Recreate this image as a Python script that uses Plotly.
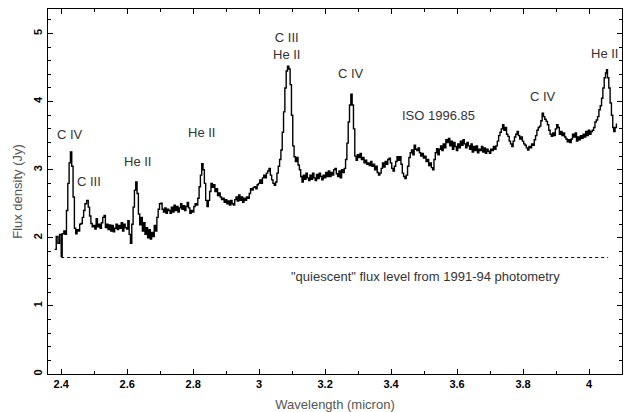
import plotly.graph_objects as go

# --- data ---
wavelength = [
    2.380, 2.385, 2.390, 2.395, 2.400, 2.403, 2.408, 2.412, 2.416, 2.420, 2.424, 2.428, 2.432, 2.436,
    2.440, 2.444, 2.448, 2.452, 2.456, 2.460, 2.464, 2.468, 2.472, 2.477, 2.482, 2.486, 2.490, 2.494,
    2.498, 2.502, 2.506, 2.510, 2.514, 2.518, 2.522, 2.526, 2.530, 2.534, 2.538, 2.542, 2.546, 2.550,
    2.554, 2.558, 2.562, 2.566, 2.570, 2.574, 2.578, 2.582, 2.586, 2.590, 2.594, 2.598, 2.602, 2.606,
    2.610, 2.614, 2.618, 2.622, 2.626, 2.630, 2.634, 2.638, 2.642, 2.646, 2.650, 2.654, 2.658, 2.662,
    2.666, 2.670, 2.674, 2.678, 2.682, 2.686, 2.690, 2.694, 2.698, 2.702, 2.706, 2.710, 2.714, 2.718,
    2.722, 2.726, 2.730, 2.734, 2.738, 2.742, 2.746, 2.750, 2.754, 2.758, 2.762, 2.766, 2.770, 2.774,
    2.778, 2.782, 2.786, 2.790, 2.794, 2.798, 2.802, 2.806, 2.810, 2.814, 2.818, 2.822, 2.826, 2.830,
    2.834, 2.838, 2.842, 2.846, 2.850, 2.854, 2.858, 2.862, 2.866, 2.870, 2.874, 2.878, 2.882, 2.886,
    2.890, 2.894, 2.898, 2.902, 2.906, 2.910, 2.914, 2.918, 2.922, 2.926, 2.930, 2.934, 2.938, 2.942,
    2.946, 2.950, 2.954, 2.958, 2.962, 2.966, 2.970, 2.974, 2.978, 2.982, 2.986, 2.990, 2.994, 2.998,
    3.002, 3.006, 3.010, 3.014, 3.018, 3.022, 3.026, 3.030, 3.034, 3.038, 3.042, 3.046, 3.050, 3.054,
    3.058, 3.062, 3.066, 3.070, 3.074, 3.078, 3.082, 3.086, 3.090, 3.094, 3.098, 3.102, 3.106, 3.110,
    3.114, 3.118, 3.122, 3.126, 3.130, 3.134, 3.138, 3.142, 3.146, 3.150, 3.154, 3.158, 3.162, 3.166,
    3.170, 3.174, 3.178, 3.182, 3.186, 3.190, 3.194, 3.198, 3.202, 3.206, 3.210, 3.214, 3.218, 3.222,
    3.226, 3.230, 3.234, 3.238, 3.242, 3.246, 3.250, 3.254, 3.258, 3.262, 3.266, 3.270, 3.274, 3.278,
    3.282, 3.286, 3.290, 3.294, 3.298, 3.302, 3.306, 3.310, 3.314, 3.318, 3.322, 3.326, 3.330, 3.334,
    3.338, 3.342, 3.346, 3.350, 3.354, 3.358, 3.362, 3.366, 3.370, 3.374, 3.378, 3.382, 3.386, 3.390,
    3.394, 3.398, 3.402, 3.406, 3.410, 3.414, 3.418, 3.422, 3.426, 3.430, 3.434, 3.438, 3.442, 3.446,
    3.450, 3.454, 3.458, 3.462, 3.466, 3.470, 3.474, 3.478, 3.482, 3.486, 3.490, 3.494, 3.498, 3.502,
    3.506, 3.510, 3.514, 3.518, 3.522, 3.526, 3.530, 3.534, 3.538, 3.542, 3.546, 3.550, 3.554, 3.558,
    3.562, 3.566, 3.570, 3.574, 3.578, 3.582, 3.586, 3.590, 3.594, 3.598, 3.602, 3.606, 3.610, 3.614,
    3.618, 3.622, 3.626, 3.630, 3.634, 3.638, 3.642, 3.646, 3.650, 3.654, 3.658, 3.662, 3.666, 3.670,
    3.674, 3.678, 3.682, 3.686, 3.690, 3.694, 3.698, 3.702, 3.706, 3.710, 3.714, 3.718, 3.722, 3.726,
    3.730, 3.734, 3.738, 3.742, 3.746, 3.750, 3.754, 3.758, 3.762, 3.766, 3.770, 3.774, 3.778, 3.782,
    3.786, 3.790, 3.794, 3.798, 3.802, 3.806, 3.810, 3.814, 3.818, 3.822, 3.826, 3.830, 3.834, 3.838,
    3.842, 3.846, 3.850, 3.854, 3.858, 3.862, 3.866, 3.870, 3.874, 3.878, 3.882, 3.886, 3.890, 3.894,
    3.898, 3.902, 3.906, 3.910, 3.914, 3.918, 3.922, 3.926, 3.930, 3.934, 3.938, 3.942, 3.946, 3.950,
    3.954, 3.958, 3.962, 3.966, 3.970, 3.974, 3.978, 3.982, 3.986, 3.990, 3.994, 3.998, 4.002, 4.006,
    4.010, 4.014, 4.018, 4.022, 4.026, 4.030, 4.034, 4.038, 4.042, 4.046, 4.050, 4.053, 4.056, 4.060,
    4.064, 4.068, 4.072, 4.075, 4.079, 4.083,
]

flux = [
    1.83, 2.02, 1.92, 2.05, 1.73, 2.06, 2.10, 2.05, 2.40, 2.80, 3.10, 3.26, 3.05, 2.60,
    2.14, 2.06, 2.12, 2.10, 2.20, 2.21, 2.30, 2.40, 2.50, 2.55, 2.45, 2.32, 2.21, 2.16,
    2.18, 2.13, 2.28, 2.16, 2.20, 2.14, 2.22, 2.30, 2.33, 2.15, 2.20, 2.12, 2.19, 2.10,
    2.18, 2.09, 2.14, 2.20, 2.12, 2.18, 2.14, 2.22, 2.10, 2.20, 2.15, 2.13, 2.25, 2.05,
    1.92, 2.20, 2.45, 2.70, 2.82, 2.65, 2.35, 2.19, 2.30, 2.10, 2.22, 2.05, 2.15, 2.00,
    2.12, 1.98, 2.08, 2.02, 2.18, 2.10, 2.30, 2.42, 2.50, 2.51, 2.42, 2.38, 2.44, 2.36,
    2.42, 2.40, 2.36, 2.45, 2.38, 2.48, 2.40, 2.46, 2.38, 2.44, 2.50, 2.42, 2.47, 2.40,
    2.46, 2.52, 2.44, 2.36, 2.40, 2.38, 2.46, 2.50, 2.48, 2.58, 2.75, 2.92, 3.09, 3.00,
    2.80, 2.55, 2.46, 2.55, 2.68, 2.80, 2.74, 2.78, 2.68, 2.72, 2.62, 2.66, 2.60, 2.56,
    2.58, 2.52, 2.56, 2.50, 2.54, 2.48, 2.55, 2.50, 2.48, 2.56, 2.60, 2.54, 2.63, 2.55,
    2.60, 2.52, 2.58, 2.55, 2.60, 2.58, 2.65, 2.72, 2.70, 2.74, 2.75, 2.72, 2.78, 2.80,
    2.85, 2.80, 2.88, 2.92, 2.88, 2.95, 2.98, 3.02, 2.92, 2.85, 2.80, 2.77, 2.82, 2.95,
    3.05, 3.15, 3.29, 3.55, 3.85, 4.20, 4.45, 4.52, 4.48, 4.25, 3.80, 3.35, 3.19, 3.12,
    3.18, 3.07, 3.00, 2.90, 2.82, 2.92, 2.86, 2.95, 2.88, 2.84, 2.92, 2.86, 2.95, 2.88,
    2.84, 2.93, 2.87, 2.95, 2.90, 2.85, 2.92, 2.88, 2.96, 2.90, 2.98, 2.90, 2.96, 2.92,
    3.00, 3.02, 2.94, 2.90, 2.98, 2.88, 3.00, 2.96, 3.02, 3.15, 3.39, 3.70, 3.95, 4.11,
    3.95, 3.60, 3.20, 3.14, 3.22, 3.18, 3.24, 3.15, 3.18, 3.10, 3.14, 3.08, 3.10, 3.06,
    3.12, 3.05, 3.08, 3.00, 3.05, 2.96, 2.92, 2.95, 3.02, 3.10, 3.04, 3.12, 3.08, 3.15,
    3.17, 3.10, 3.02, 2.98, 3.05, 3.12, 3.19, 3.14, 3.19, 3.08, 2.95, 2.90, 2.87, 2.92,
    3.05, 3.18, 3.25, 3.29, 3.22, 3.36, 3.30, 3.28, 3.32, 3.25, 3.20, 3.24, 3.17, 3.20,
    3.12, 3.15, 3.06, 3.10, 3.03, 3.00, 3.15, 3.25, 3.31, 3.22, 3.30, 3.35, 3.28, 3.38,
    3.32, 3.44, 3.40, 3.46, 3.35, 3.42, 3.30, 3.40, 3.34, 3.28, 3.38, 3.32, 3.42, 3.36,
    3.44, 3.38, 3.32, 3.40, 3.35, 3.30, 3.38, 3.26, 3.34, 3.28, 3.35, 3.25, 3.30, 3.28,
    3.34, 3.26, 3.32, 3.24, 3.30, 3.27, 3.24, 3.30, 3.28, 3.34, 3.30, 3.35, 3.42, 3.50,
    3.55, 3.60, 3.66, 3.58, 3.62, 3.52, 3.49, 3.42, 3.38, 3.34, 3.42, 3.48, 3.52, 3.56,
    3.50, 3.45, 3.48, 3.42, 3.38, 3.36, 3.32, 3.29, 3.34, 3.32, 3.38, 3.36, 3.44, 3.50,
    3.58, 3.62, 3.64, 3.72, 3.83, 3.78, 3.74, 3.71, 3.66, 3.58, 3.52, 3.49, 3.54, 3.50,
    3.60, 3.66, 3.62, 3.52, 3.56, 3.50, 3.54, 3.48, 3.45, 3.41, 3.44, 3.40, 3.45, 3.52,
    3.48, 3.54, 3.42, 3.48, 3.44, 3.50, 3.46, 3.52, 3.48, 3.56, 3.50, 3.58, 3.52, 3.56,
    3.58, 3.62, 3.70, 3.73, 3.78, 3.88, 3.94, 4.05, 4.20, 4.35, 4.42, 4.47, 4.35, 4.20,
    3.98, 3.80, 3.62, 3.56, 3.62, 3.68,
]

quiescent_x = [2.40, 4.058]
quiescent_y = [1.71, 1.71]

line_labels = ["C IV", "C III", "He II", "He II", "C III<br>He II", "C IV", "ISO 1996.85", "C IV", "He II"]
label_x = [2.427, 2.484, 2.630, 2.826, 3.084, 3.278, 3.544, 3.861, 4.047]
label_y = [3.52, 2.83, 3.12, 3.55, 4.82, 4.42, 3.80, 4.08, 4.70]

quiescent_text = '"quiescent" flux level from 1991-94 photometry'
quiescent_text_x = 3.505
quiescent_text_y = 1.43

x_range = [2.36, 4.10]
y_range = [0, 5.36]

fig = go.Figure()
fig.add_trace(go.Scatter(x=wavelength, y=flux, mode="lines",
                         line=dict(color="black", width=1.4, shape="hv"),
                         showlegend=False, hoverinfo="skip"))
fig.add_trace(go.Scatter(x=quiescent_x, y=quiescent_y, mode="lines",
                         line=dict(color="black", width=1, dash="dot"),
                         showlegend=False, hoverinfo="skip"))

for t, x, y in zip(line_labels, label_x, label_y):
    fig.add_annotation(x=x, y=y, text=t, showarrow=False,
                       font=dict(family="Liberation Sans, Arial", size=13, color="#333333"))
fig.add_annotation(x=quiescent_text_x, y=quiescent_text_y, text=quiescent_text, showarrow=False,
                   font=dict(family="Liberation Sans, Arial", size=13, color="#333333"))

axis_common = dict(
    showgrid=False, zeroline=False, showline=True, linecolor="black", linewidth=1.3,
    mirror="ticks", ticks="inside", ticklen=5, tickwidth=1.2, tickcolor="black",
    tickfont=dict(family="Liberation Sans, Arial", size=11, color="black", weight="bold"),
)

fig.update_xaxes(range=x_range, tick0=2.4, dtick=0.2,
                 minor=dict(dtick=0.1, ticks="inside", ticklen=3, tickcolor="black", tickwidth=1),
                 title=dict(text="Wavelength (micron)", standoff=10,
                            font=dict(family="Liberation Sans, Arial", size=13, color="#555555")),
                 **axis_common)
fig.update_yaxes(range=y_range, tick0=0, dtick=1, tickangle=-90,
                 minor=dict(dtick=0.2, ticks="inside", ticklen=3, tickcolor="black", tickwidth=1),
                 title=dict(text="Flux density (Jy)", standoff=6,
                            font=dict(family="Liberation Sans, Arial", size=13, color="#555555")),
                 **axis_common)

fig.update_layout(width=625, height=412, margin=dict(l=48, r=3, t=9, b=38),
                  paper_bgcolor="white", plot_bgcolor="white")

fig.write_html("out.html")
